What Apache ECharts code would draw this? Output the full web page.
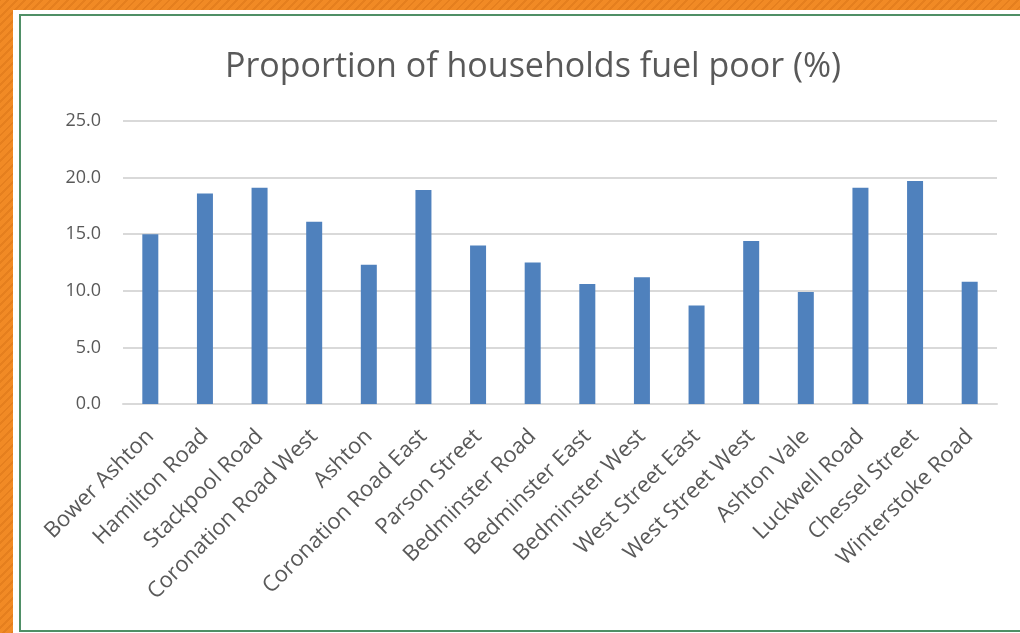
<!DOCTYPE html>
<html>
<head>
<meta charset="utf-8">
<script src="https://cdn.jsdelivr.net/npm/echarts@6/dist/echarts.min.js"></script>
<style>
  html, body { margin: 0; padding: 0; width: 1020px; height: 633px; overflow: hidden; }
  body {
    position: relative;
    background: repeating-linear-gradient(-45deg, #f18a25 0px, #f18a25 4px, #e57f1e 4px, #e57f1e 6px);
  }
  #frame {
    position: absolute; left: 13px; top: 10px; width: 1040px; height: 660px;
    background: #ffffff;
  }
  #border {
    position: absolute; left: 19px; top: 14px; width: 1040px; height: 614px;
    border: 2px solid #4f8f66; background: #ffffff;
  }
  #chart { position: absolute; left: 0; top: 0; width: 1020px; height: 633px; }
</style>
</head>
<body>
<div id="frame"></div>
<div id="border"></div>
<div id="chart"></div>
<script>
  // wards
  const wards = [
    'Bower Ashton', 'Hamilton Road', 'Stackpool Road', 'Coronation Road West',
    'Ashton', 'Coronation Road East', 'Parson Street', 'Bedminster Road',
    'Bedminster East', 'Bedminster West', 'West Street East', 'West Street West',
    'Ashton Vale', 'Luckwell Road', 'Chessel Street', 'Winterstoke Road',
  ]
  // % of households fuel poor
  const fuelPoor = [15.0, 18.6, 19.1, 16.1, 12.3, 18.9, 14.0, 12.5,
    10.6, 11.2, 8.7, 14.4, 9.9, 19.1, 19.7, 10.8]

  const chart = echarts.init(document.getElementById('chart'))
  const option = {
    backgroundColor: 'transparent',
    animation: false,
    title: {
      text: 'Proportion of households fuel poor (%)',
      left: 220,
      top: 45,
      textStyle: {
        fontFamily: 'Open Sans',
        fontSize: 34,
        fontWeight: 'normal',
        color: '#595959',
      },
    },
    grid: {
      left: 123,
      right: 23,
      top: 121,
      bottom: 229,
      outerBoundsMode: 'none',
    },
    xAxis: {
      type: 'category',
      data: wards,
      axisTick: { show: false },
      axisLine: { lineStyle: { color: '#d9d9d9', width: 2 } },
      axisLabel: {
        interval: 0,
        rotate: 45,
        margin: 29,
        fontFamily: 'Open Sans',
        fontSize: 22,
        color: '#595959',
      },
    },
    yAxis: {
      type: 'value',
      min: 0,
      max: 25,
      interval: 5,
      axisLine: { show: false },
      axisTick: { show: false },
      splitLine: { lineStyle: { color: '#d9d9d9', width: 2 } },
      axisLabel: {
        margin: 22,
        fontFamily: 'Open Sans',
        fontSize: 18,
        color: '#595959',
        formatter: v => v.toFixed(1),
      },
    },
    series: [{
      type: 'bar',
      data: fuelPoor,
      barWidth: 16,
      itemStyle: { color: '#4f81bd' },
    }],
  }
  chart.setOption(option)
</script>
</body>
</html>
